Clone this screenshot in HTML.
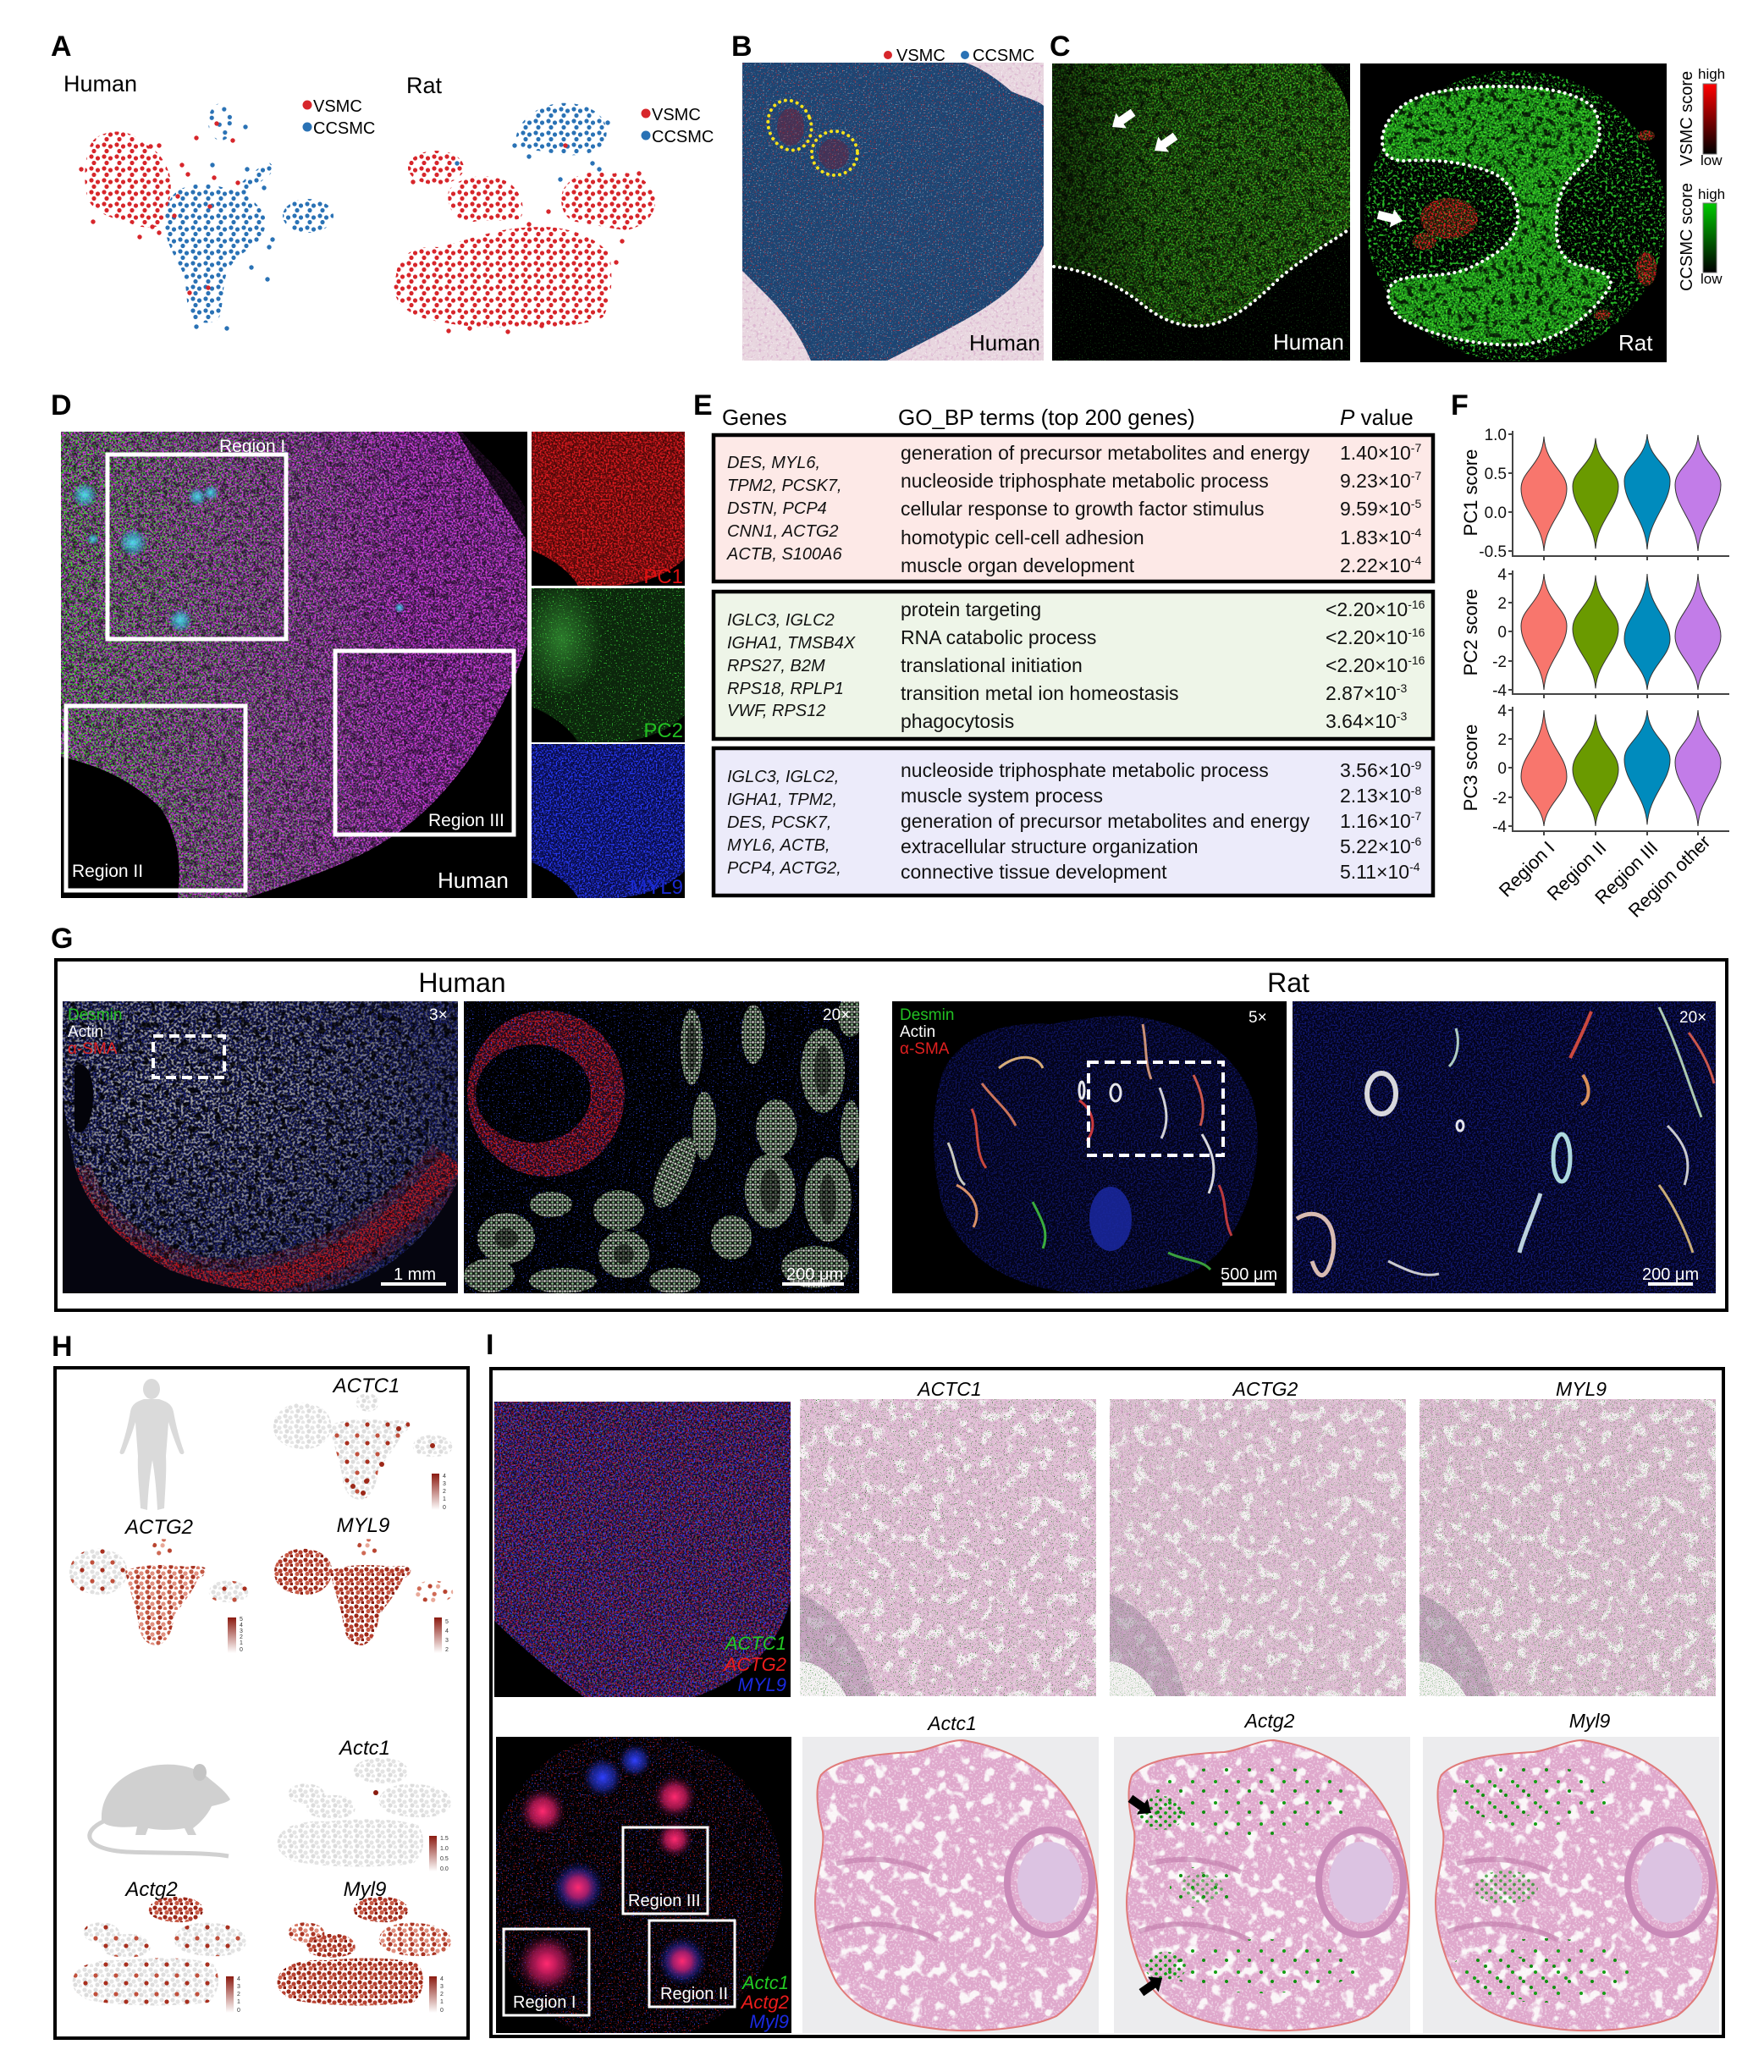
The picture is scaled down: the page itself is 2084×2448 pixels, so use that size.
<!DOCTYPE html>
<html><head><meta charset="utf-8"><title>Figure</title>
<style>html,body{margin:0;padding:0;background:#fff}svg{display:block}text{font-family:"Liberation Sans",Arial,sans-serif}</style>
</head><body>
<svg xmlns="http://www.w3.org/2000/svg" width="2084" height="2448" viewBox="0 0 2084 2448">
<defs>
<filter id="fWs" x="0" y="0" width="1" height="1" color-interpolation-filters="sRGB"><feTurbulence type="fractalNoise" baseFrequency="0.6" seed="2"/><feColorMatrix values="0 0 0 0 1 0 0 0 0 1 0 0 0 0 1 9 0 0 0 -5.5"/></filter>
<filter id="fWm" x="0" y="0" width="1" height="1" color-interpolation-filters="sRGB"><feTurbulence type="fractalNoise" baseFrequency="0.45" seed="3"/><feColorMatrix values="0 0 0 0 1 0 0 0 0 1 0 0 0 0 1 8 0 0 0 -4.3"/></filter>
<filter id="fWb" x="0" y="0" width="1" height="1" color-interpolation-filters="sRGB"><feTurbulence type="fractalNoise" baseFrequency="0.07" numOctaves="2" seed="21"/><feColorMatrix values="0 0 0 0 0.98 0 0 0 0 0.96 0 0 0 0 0.97 8 0 0 0 -4.4"/></filter>
<filter id="fRs" x="0" y="0" width="1" height="1" color-interpolation-filters="sRGB"><feTurbulence type="fractalNoise" baseFrequency="0.6" seed="5"/><feColorMatrix values="0 0 0 0 0.92 0 0 0 0 0.12 0 0 0 0 0.12 0 9 0 0 -5.6"/></filter>
<filter id="fRd" x="0" y="0" width="1" height="1" color-interpolation-filters="sRGB"><feTurbulence type="fractalNoise" baseFrequency="0.5" seed="6"/><feColorMatrix values="0 0 0 0 0.85 0 0 0 0 0.1 0 0 0 0 0.12 7 0 0 0 -3.2"/></filter>
<filter id="fGd" x="0" y="0" width="1" height="1" color-interpolation-filters="sRGB"><feTurbulence type="fractalNoise" baseFrequency="0.5" seed="7"/><feColorMatrix values="0 0 0 0 0.25 0 0 0 0 0.85 0 0 0 0 0.15 7 0 0 0 -3.3"/></filter>
<filter id="fGs" x="0" y="0" width="1" height="1" color-interpolation-filters="sRGB"><feTurbulence type="fractalNoise" baseFrequency="0.6" seed="8"/><feColorMatrix values="0 0 0 0 0.2 0 0 0 0 0.8 0 0 0 0 0.2 9 0 0 0 -5.6"/></filter>
<filter id="fGo" x="0" y="0" width="1" height="1" color-interpolation-filters="sRGB"><feTurbulence type="fractalNoise" baseFrequency="0.3" seed="28"/><feColorMatrix values="0 0 0 0 0.15 0 0 0 0 0.72 0 0 0 0 0.15 8 0 0 0 -4.5"/></filter>
<filter id="fBd" x="0" y="0" width="1" height="1" color-interpolation-filters="sRGB"><feTurbulence type="fractalNoise" baseFrequency="0.55" seed="9"/><feColorMatrix values="0 0 0 0 0.15 0 0 0 0 0.22 0 0 0 0 0.95 7 0 0 0 -3.3"/></filter>
<filter id="fBs" x="0" y="0" width="1" height="1" color-interpolation-filters="sRGB"><feTurbulence type="fractalNoise" baseFrequency="0.6" seed="15"/><feColorMatrix values="0 0 0 0 0.2 0 0 0 0 0.3 0 0 0 0 1 9 0 0 0 -5.6"/></filter>
<filter id="fMd" x="0" y="0" width="1" height="1" color-interpolation-filters="sRGB"><feTurbulence type="fractalNoise" baseFrequency="0.5" seed="10"/><feColorMatrix values="0 0 0 0 0.82 0 0 0 0 0.22 0 0 0 0 0.86 7 0 0 0 -3.1"/></filter>
<filter id="fGy" x="0" y="0" width="1" height="1" color-interpolation-filters="sRGB"><feTurbulence type="fractalNoise" baseFrequency="0.35" seed="11"/><feColorMatrix values="0 0 0 0 0.82 0 0 0 0 0.82 0 0 0 0 0.78 7 0 0 0 -3.3"/></filter>
<filter id="fK" x="0" y="0" width="1" height="1" color-interpolation-filters="sRGB"><feTurbulence type="fractalNoise" baseFrequency="0.45" seed="12"/><feColorMatrix values="0 0 0 0 0 0 0 0 0 0 0 0 0 0 0 8 0 0 0 -4.4"/></filter>
<filter id="fKc" x="0" y="0" width="1" height="1" color-interpolation-filters="sRGB"><feTurbulence type="fractalNoise" baseFrequency="0.13" numOctaves="2" seed="31"/><feColorMatrix values="0 0 0 0 0 0 0 0 0 0 0 0 0 0 0 9 0 0 0 -5.0"/></filter>
<filter id="fDGs" x="0" y="0" width="1" height="1" color-interpolation-filters="sRGB"><feTurbulence type="fractalNoise" baseFrequency="0.9" seed="13"/><feColorMatrix values="0 0 0 0 0.05 0 0 0 0 0.45 0 0 0 0 0.05 10 0 0 0 -6.3"/></filter>
<filter id="fDGd" x="0" y="0" width="1" height="1" color-interpolation-filters="sRGB"><feTurbulence type="fractalNoise" baseFrequency="0.9" seed="14"/><feColorMatrix values="0 0 0 0 0.08 0 0 0 0 0.5 0 0 0 0 0.08 9 0 0 0 -5.2"/></filter>
<filter id="fPk" x="0" y="0" width="1" height="1" color-interpolation-filters="sRGB"><feTurbulence type="fractalNoise" baseFrequency="0.3" seed="16"/><feColorMatrix values="0 0 0 0 0.78 0 0 0 0 0.5 0 0 0 0 0.72 6 0 0 0 -3.3"/></filter>
<filter id="fYo" x="0" y="0" width="1" height="1" color-interpolation-filters="sRGB"><feTurbulence type="fractalNoise" baseFrequency="0.6" seed="17"/><feColorMatrix values="0 0 0 0 0.95 0 0 0 0 0.7 0 0 0 0 0.1 9 0 0 0 -5.8"/></filter>

<pattern id="pr1" width="15" height="14" patternUnits="userSpaceOnUse"><circle cx="3" cy="3" r="2.6" fill="#d7262b"/><circle cx="10.5" cy="5" r="2.6" fill="#d7262b"/><circle cx="6" cy="10.5" r="2.6" fill="#d7262b"/></pattern>
<pattern id="pr2" width="22" height="19" patternUnits="userSpaceOnUse" patternTransform="rotate(17)"><circle cx="5" cy="8" r="2.6" fill="#d7262b"/><circle cx="16" cy="3" r="2.6" fill="#d7262b"/><circle cx="14" cy="15" r="2.6" fill="#d7262b"/></pattern>
<pattern id="pb1" width="15" height="14" patternUnits="userSpaceOnUse"><circle cx="3" cy="3" r="2.6" fill="#2a72b5"/><circle cx="10.5" cy="5" r="2.6" fill="#2a72b5"/><circle cx="6" cy="10.5" r="2.6" fill="#2a72b5"/></pattern>
<pattern id="pb2" width="22" height="19" patternUnits="userSpaceOnUse" patternTransform="rotate(17)"><circle cx="5" cy="8" r="2.6" fill="#2a72b5"/><circle cx="16" cy="3" r="2.6" fill="#2a72b5"/><circle cx="14" cy="15" r="2.6" fill="#2a72b5"/></pattern>

<pattern id="pHg" width="13" height="12" patternUnits="userSpaceOnUse"><circle cx="3" cy="3" r="2.6" fill="#e0e0e0"/><circle cx="9" cy="5" r="2.6" fill="#e4e4e4"/><circle cx="5" cy="9" r="2.6" fill="#dcdcdc"/><circle cx="11" cy="10.5" r="2.2" fill="#e6e6e6"/></pattern>
<pattern id="pHg2" width="19" height="17" patternUnits="userSpaceOnUse" patternTransform="rotate(20)"><circle cx="4" cy="6" r="2.6" fill="#e6e6e6"/><circle cx="13" cy="3" r="2.6" fill="#dedede"/><circle cx="12" cy="13" r="2.6" fill="#e2e2e2"/></pattern>
<pattern id="pHr" width="13" height="12" patternUnits="userSpaceOnUse"><circle cx="3" cy="3" r="2.6" fill="#c45a45"/><circle cx="9" cy="5" r="2.6" fill="#e09080"/><circle cx="5" cy="9" r="2.6" fill="#a83322"/><circle cx="11" cy="10.5" r="2.2" fill="#d87a66"/></pattern>
<pattern id="pHr2" width="19" height="17" patternUnits="userSpaceOnUse" patternTransform="rotate(20)"><circle cx="4" cy="6" r="2.6" fill="#b8432f"/><circle cx="13" cy="3" r="2.6" fill="#e8a898"/><circle cx="12" cy="13" r="2.6" fill="#cf6a55"/></pattern>
<pattern id="pHd" width="12" height="11" patternUnits="userSpaceOnUse"><circle cx="3" cy="3" r="2.6" fill="#9c2818"/><circle cx="9" cy="5" r="2.6" fill="#b84030"/><circle cx="5" cy="8.5" r="2.6" fill="#c85a45"/><circle cx="10.5" cy="9.5" r="2" fill="#8a1c10"/></pattern>
<pattern id="pHs" width="24" height="22" patternUnits="userSpaceOnUse"><circle cx="5" cy="6" r="2.6" fill="#c0503c"/><circle cx="17" cy="15" r="2.6" fill="#a8301f"/></pattern>
<pattern id="pGd" width="11" height="10" patternUnits="userSpaceOnUse"><circle cx="2" cy="2" r="1.9" fill="#14a014"/><circle cx="7" cy="6.5" r="1.9" fill="#0f8f0f"/></pattern>
<pattern id="pGs" width="27" height="25" patternUnits="userSpaceOnUse"><circle cx="5" cy="5" r="2" fill="#14a014"/><circle cx="18" cy="16" r="2" fill="#0f8f0f"/></pattern>
<pattern id="pBun" width="6" height="6" patternUnits="userSpaceOnUse"><rect width="6" height="6" fill="#1c241c"/><circle cx="1.5" cy="1.5" r="1.3" fill="#ececE4"/><circle cx="4.5" cy="4.5" r="1.3" fill="#9ad49a"/><circle cx="4.5" cy="1.5" r="1" fill="#d8d8d8"/></pattern>

<linearGradient id="gV" x1="0" y1="0" x2="0" y2="1"><stop offset="0" stop-color="#ff0000"/><stop offset="1" stop-color="#000"/></linearGradient>
<linearGradient id="gC" x1="0" y1="0" x2="0" y2="1"><stop offset="0" stop-color="#00c800"/><stop offset="1" stop-color="#000"/></linearGradient>
<linearGradient id="gH" x1="0" y1="0" x2="0" y2="1"><stop offset="0" stop-color="#8b1a10"/><stop offset="1" stop-color="#fff"/></linearGradient>
<linearGradient id="gGL" x1="0" y1="0" x2="1" y2="0"><stop offset="0" stop-color="#fff"/><stop offset="0.45" stop-color="#8a8a8a"/><stop offset="0.75" stop-color="#1a1a1a"/></linearGradient>
<linearGradient id="gDarkL" x1="0" y1="0" x2="1" y2="0"><stop offset="0" stop-color="#000" stop-opacity="0.55"/><stop offset="0.35" stop-color="#000" stop-opacity="0.15"/><stop offset="1" stop-color="#000" stop-opacity="0"/></linearGradient>
<radialGradient id="gCy"><stop offset="0" stop-color="#50e8f8" stop-opacity="0.9"/><stop offset="0.6" stop-color="#30c0e0" stop-opacity="0.5"/><stop offset="1" stop-color="#30c0e0" stop-opacity="0"/></radialGradient>
<radialGradient id="rgGH" cx="0.3" cy="0.3" r="0.85"><stop offset="0" stop-color="#e8e8e8"/><stop offset="0.6" stop-color="#999"/><stop offset="1" stop-color="#2a2a2a"/></radialGradient>
<radialGradient id="gBlobR"><stop offset="0" stop-color="#ff2a70"/><stop offset="0.5" stop-color="#c01a5a" stop-opacity="0.8"/><stop offset="1" stop-color="#400830" stop-opacity="0"/></radialGradient>
<radialGradient id="gBlobB"><stop offset="0" stop-color="#3040ff"/><stop offset="0.6" stop-color="#2030c0" stop-opacity="0.6"/><stop offset="1" stop-color="#101060" stop-opacity="0"/></radialGradient>
<radialGradient id="gPC2"><stop offset="0" stop-color="#40b040"/><stop offset="1" stop-color="#40b040" stop-opacity="0"/></radialGradient>

<mask id="mGL"><rect x="72" y="510" width="551" height="551" fill="url(#gGL)"/></mask>
<mask id="mGH"><rect x="74" y="1183" width="467" height="345" fill="url(#rgGH)"/></mask>
<mask id="mBand" maskUnits="userSpaceOnUse" x="0" y="1100" width="700" height="500"><path d="M78,1385 C110,1470 190,1515 270,1518 C370,1512 460,1465 535,1370" stroke="#fff" stroke-width="30" fill="none" opacity="0.85"/><path d="M78,1385 C110,1470 190,1515 270,1518 C370,1512 460,1465 535,1370" stroke="#fff" stroke-width="60" fill="none" opacity="0.35"/></mask>

<clipPath id="cpB"><path d="M877,74 L1140,74 C1160,80 1180,95 1195,108 C1210,115 1225,118 1233,125 L1233,290 C1215,330 1180,355 1140,378 C1100,400 1070,415 1048,426 L958,426 C945,395 925,368 905,348 C895,338 885,328 877,320 Z"/></clipPath>
<clipPath id="cpCH"><path d="M1243,75 L1560,75 C1580,95 1595,115 1595,150 L1595,268 C1575,285 1545,300 1510,330 C1480,360 1450,383 1420,385 C1395,386 1375,380 1350,360 C1320,335 1280,318 1245,315 Z"/></clipPath>
<clipPath id="cpCR"><path d="M1633,163 C1632,180 1640,190 1660,190 C1690,188 1730,190 1765,205 C1790,218 1796,245 1792,267 C1785,292 1760,305 1733,318 C1700,330 1660,322 1645,335 C1632,350 1645,375 1667,382 C1700,400 1760,410 1800,407 C1840,402 1880,375 1903,337 C1904,325 1890,318 1860,312 C1835,300 1838,270 1840,247 C1842,220 1860,205 1880,185 C1893,170 1893,140 1880,125 C1860,108 1820,102 1773,102 C1740,102 1700,106 1675,115 C1650,125 1635,145 1633,163 Z"/></clipPath>
<clipPath id="cpCRo"><ellipse cx="1790" cy="255" rx="178" ry="172"/></clipPath>
<clipPath id="cpRed"><ellipse cx="1712" cy="258" rx="34" ry="24"/><ellipse cx="1683" cy="285" rx="14" ry="10"/><ellipse cx="1945" cy="318" rx="12" ry="20"/><ellipse cx="1945" cy="160" rx="10" ry="6"/><ellipse cx="1893" cy="372" rx="10" ry="6"/></clipPath>
<clipPath id="cpD"><path d="M72,510 L545,510 C570,540 600,560 620,600 L623,760 C600,830 560,900 510,950 C470,990 430,1010 380,1030 C340,1045 310,1055 290,1061 L210,1061 C215,1020 210,985 190,955 C160,925 120,905 76,895 L72,895 Z"/></clipPath>
<clipPath id="cpSide"><path d="M0,0 L181,0 L181,150 C160,170 130,180 100,182 L55,182 C45,165 25,150 0,140 Z"/></clipPath>
<clipPath id="cpGHL"><path d="M74,1183 L541,1183 L541,1395 C515,1450 470,1500 400,1522 C330,1534 260,1524 200,1500 C140,1468 100,1425 88,1375 L74,1300 Z"/></clipPath>
<clipPath id="cpGHR"><rect x="548" y="1183" width="467" height="345"/></clipPath>
<clipPath id="cpRing"><path clip-rule="evenodd" d="M552,1292 a93,98 0 1,0 186,0 a93,98 0 1,0 -186,0 Z M562,1292 a68,58 0 1,0 136,0 a68,58 0 1,0 -136,0 Z"/></clipPath>
<clipPath id="cpGRL"><path d="M1110,1280 C1120,1230 1180,1205 1240,1210 C1270,1205 1300,1200 1330,1200 C1400,1205 1460,1240 1480,1300 C1495,1360 1480,1430 1440,1480 C1400,1520 1330,1528 1280,1528 C1200,1525 1140,1490 1115,1430 C1100,1380 1100,1320 1110,1280 Z"/></clipPath>
<clipPath id="cpItl"><path d="M584,1656 L934,1656 L934,1890 C920,1945 880,1985 820,2005 L690,2005 C650,1975 615,1945 584,1915 Z"/></clipPath>
<clipPath id="cpIbl"><ellipse cx="750" cy="2230" rx="175" ry="185"/></clipPath>
<clipPath id="cpRT"><path d="M189,4 C230,10 280,30 310,70 C340,110 349,160 349,200 C349,260 340,300 300,330 C260,348 190,350 150,344 C90,336 60,320 40,290 C20,250 12,210 16,180 C20,150 26,130 24,112 C18,90 14,60 22,45 C40,25 90,20 130,18 C150,16 170,4 189,4 Z"/></clipPath>

<path id="hL" d="M2,40 C2,22 20,10 40,12 C60,14 72,25 70,42 C68,58 52,68 34,66 C15,64 2,55 2,40Z"/>
<path id="hTop" d="M100,10 C100,2 110,-1 118,1 C126,3 128,12 124,18 C118,24 104,22 100,15Z"/>
<path id="hTr" d="M68,38 C90,28 130,30 158,36 C152,58 138,74 126,90 C124,106 120,122 106,126 C90,126 84,112 83,96 C80,78 72,60 68,38Z"/>
<path id="hBr" d="M128,40 C135,32 150,30 162,34 C166,40 160,46 150,48 C140,50 130,48 128,40Z"/>
<path id="hR" d="M167,62 C168,52 182,48 196,50 C210,52 216,60 212,68 C206,76 190,76 178,74 C170,72 166,68 167,62Z"/>
<path id="rTop" d="M92,15 C95,4 112,0 128,1 C145,2 157,8 156,18 C154,28 140,32 124,31 C106,30 90,25 92,15Z"/>
<path id="rL" d="M15,42 C16,33 30,30 42,32 C55,34 60,42 56,50 C50,56 36,56 26,54 C18,52 14,48 15,42Z"/>
<path id="rM" d="M36,58 C38,48 55,44 72,45 C88,46 96,55 93,64 C88,72 70,74 55,72 C42,70 35,66 36,58Z"/>
<path id="rR" d="M122,50 C124,36 145,30 168,32 C192,34 208,42 207,55 C205,68 186,72 165,71 C140,70 120,64 122,50Z"/>
<path id="rB" d="M2,98 C5,82 30,74 60,76 C100,72 140,72 168,80 C178,96 175,115 162,126 C120,131 60,131 20,123 C5,116 0,108 2,98Z"/>
<polygon id="arw" points="0,0 13,-11 13,-5 30,-5 30,5 13,5 13,11"/>

<g id="heH">
<rect width="350" height="351" fill="#e4c2d9"/>
<rect width="350" height="351" filter="url(#fWb)" opacity="0.9"/>
<rect width="350" height="351" filter="url(#fPk)" opacity="0.45"/>
<path d="M0,230 C30,240 60,270 80,320 L90,351 L0,351 Z" fill="#a888a8" opacity="0.5"/>
<path d="M0,310 C20,310 40,325 55,351 L0,351 Z" fill="#f6f2f4"/>
</g>
<g id="heR">
<rect width="350" height="350" fill="#ececee"/>
<g clip-path="url(#cpRT)">
<rect width="350" height="350" fill="#dfa8cc"/>
<rect width="350" height="350" filter="url(#fWb)"/>
<rect width="350" height="350" filter="url(#fWm)" opacity="0.45"/>
</g>
<path d="M189,4 C230,10 280,30 310,70 C340,110 349,160 349,200 C349,260 340,300 300,330 C260,348 190,350 150,344 C90,336 60,320 40,290 C20,250 12,210 16,180 C20,150 26,130 24,112 C18,90 14,60 22,45 C40,25 90,20 130,18 C150,16 170,4 189,4 Z" fill="none" stroke="#e07a7a" stroke-width="2"/>
<ellipse cx="292" cy="172" rx="50" ry="62" fill="none" stroke="#c98ab8" stroke-width="8"/>
<ellipse cx="292" cy="172" rx="38" ry="48" fill="#dcc3e2"/>
<path d="M40,150 C80,140 120,145 150,160 M30,230 C70,215 120,220 160,240" stroke="#c07aa8" stroke-width="6" fill="none" opacity="0.6"/>
</g>
</defs>

<rect width="2084" height="2448" fill="#fff"/>

<!-- panel letters -->
<g font-weight="bold" font-size="34" fill="#000">
<text x="60" y="66">A</text><text x="864" y="66">B</text><text x="1240" y="66">C</text>
<text x="60" y="490">D</text><text x="819" y="490">E</text><text x="1714" y="490">F</text>
<text x="60" y="1120">G</text><text x="61" y="1602">H</text><text x="574" y="1600">I</text>
</g>

<!-- ===== A ===== -->
<text x="75" y="108" font-size="27">Human</text>
<circle cx="363" cy="124" r="5.5" fill="#d7262b"/><text x="370" y="132" font-size="20">VSMC</text>
<circle cx="363" cy="150" r="5.5" fill="#2a72b5"/><text x="370" y="158" font-size="20">CCSMC</text>
<text x="480" y="110" font-size="27">Rat</text>
<circle cx="763" cy="134" r="5.5" fill="#d7262b"/><text x="770" y="142" font-size="20">VSMC</text>
<circle cx="763" cy="160" r="5.5" fill="#2a72b5"/><text x="770" y="168" font-size="20">CCSMC</text>
<g>
<path d="M118,160 C140,150 160,158 170,170 C185,175 195,190 200,205 C205,225 198,245 195,262 C185,272 165,270 150,262 C130,258 110,250 104,235 C98,215 100,195 104,180 C106,170 110,164 118,160 Z" fill="url(#pr1)"/>
<path d="M205,230 C220,215 245,215 265,222 C285,225 300,235 310,250 C318,262 312,280 300,290 C285,300 275,308 268,322 C262,340 265,360 258,378 C248,384 230,382 225,372 C218,355 222,335 215,320 C205,300 195,285 195,265 C195,250 198,238 205,230 Z" fill="url(#pb1)"/>
<ellipse cx="261" cy="144" rx="15" ry="22" fill="url(#pb2)"/>
<ellipse cx="364" cy="255" rx="30" ry="20" fill="url(#pb1)"/>
<path d="M275,228 C285,215 300,200 318,192 C325,196 322,205 315,210 C302,218 292,228 283,236 Z" fill="url(#pb1)"/>
<g fill="#d7262b"><circle cx="215" cy="195" r="2.7"/><circle cx="222" cy="206" r="2.7"/><circle cx="210" cy="232" r="2.7"/><circle cx="188" cy="275" r="2.7"/><circle cx="180" cy="268" r="2.7"/><circle cx="281" cy="216" r="2.7"/><circle cx="253" cy="210" r="2.7"/><circle cx="232" cy="163" r="2.7"/><circle cx="275" cy="166" r="2.7"/><circle cx="246" cy="340" r="2.7"/><circle cx="224" cy="346" r="2.7"/><circle cx="256" cy="146" r="2.7"/><circle cx="178" cy="173" r="2.7"/><circle cx="188" cy="172" r="2.7"/><circle cx="248" cy="244" r="2.7"/><circle cx="96" cy="200" r="2.7"/><circle cx="110" cy="262" r="2.7"/><circle cx="165" cy="280" r="2.7"/><circle cx="206" cy="255" r="2.7"/></g>
<g fill="#2a72b5"><circle cx="318" cy="292" r="2.7"/><circle cx="316" cy="330" r="2.7"/><circle cx="292" cy="200" r="2.7"/><circle cx="251" cy="195" r="2.7"/><circle cx="290" cy="150" r="2.7"/><circle cx="322" cy="283" r="2.7"/><circle cx="297" cy="316" r="2.7"/><circle cx="312" cy="222" r="2.7"/><circle cx="268" cy="388" r="2.7"/><circle cx="232" cy="386" r="2.7"/></g>
</g>
<g>
<path d="M610,160 C615,140 635,125 660,122 C690,120 712,132 716,150 C720,170 705,180 690,182 C670,186 650,180 635,178 C620,178 608,172 610,160 Z" fill="url(#pb1)"/>
<ellipse cx="515" cy="198" rx="33" ry="20" fill="url(#pr1)"/>
<path d="M530,225 C545,205 580,205 600,215 C615,225 622,245 615,258 C600,263 575,258 560,262 C540,262 526,248 530,225 Z" fill="url(#pr1)"/>
<path d="M665,225 C675,205 700,200 725,205 C750,200 770,215 774,235 C775,255 760,268 740,272 C720,270 700,265 680,262 C665,258 660,240 665,225 Z" fill="url(#pr1)"/>
<path d="M468,325 C470,300 490,290 520,292 C545,285 560,280 580,275 C600,270 620,268 645,268 C680,270 705,282 720,300 C725,330 722,360 712,375 C690,385 650,388 620,385 C580,388 545,386 520,380 C500,378 480,370 470,355 C464,345 465,335 468,325 Z" fill="url(#pr1)"/>
<g fill="#2a72b5"><circle cx="718" cy="145" r="2.7"/><circle cx="700" cy="193" r="2.7"/><circle cx="708" cy="200" r="2.7"/><circle cx="662" cy="212" r="2.7"/><circle cx="540" cy="193" r="2.7"/><circle cx="608" cy="172" r="2.7"/><circle cx="625" cy="185" r="2.7"/></g>
<g fill="#d7262b"><circle cx="668" cy="172" r="2.7"/><circle cx="625" cy="265" r="2.7"/><circle cx="648" cy="250" r="2.7"/><circle cx="728" cy="310" r="2.7"/><circle cx="555" cy="388" r="2.7"/><circle cx="600" cy="392" r="2.7"/><circle cx="640" cy="385" r="2.7"/><circle cx="755" cy="205" r="2.7"/><circle cx="530" cy="391" r="2.7"/><circle cx="488" cy="215" r="2.7"/><circle cx="735" cy="285" r="2.7"/></g>
</g>

<!-- ===== B ===== -->
<circle cx="1049" cy="65" r="5" fill="#d7262b"/><text x="1059" y="72" font-size="20">VSMC</text>
<circle cx="1140" cy="65" r="5" fill="#2a72b5"/><text x="1149" y="72" font-size="20">CCSMC</text>
<rect x="877" y="74" width="356" height="352" fill="#e8d6df"/>
<rect x="877" y="74" width="356" height="352" filter="url(#fPk)" opacity="0.35"/>
<rect x="877" y="74" width="356" height="352" filter="url(#fWs)" opacity="0.6"/>
<g clip-path="url(#cpB)">
<rect x="877" y="74" width="356" height="352" fill="#1c4573"/>
<rect x="877" y="74" width="356" height="352" filter="url(#fWs)" opacity="0.4"/>
<rect x="877" y="74" width="356" height="352" filter="url(#fRs)" opacity="0.65"/>
<ellipse cx="934" cy="150" rx="16" ry="22" fill="#7a1a30" opacity="0.45"/>
<ellipse cx="985" cy="182" rx="18" ry="18" fill="#7a1a30" opacity="0.4"/>
</g>
<g fill="none" stroke="#f5e11a" stroke-width="4" stroke-dasharray="0.1 7" stroke-linecap="round">
<ellipse cx="933" cy="148" rx="25" ry="30" transform="rotate(-20 933 148)"/>
<ellipse cx="986" cy="181" rx="27" ry="26"/>
</g>
<text x="1145" y="414" font-size="26">Human</text>

<!-- ===== C human ===== -->
<rect x="1243" y="75" width="352" height="351" fill="#000"/>
<rect x="1243" y="75" width="352" height="351" filter="url(#fGs)" opacity="0.3"/>
<g clip-path="url(#cpCH)">
<rect x="1243" y="75" width="352" height="351" fill="#14360b"/>
<rect x="1243" y="75" width="352" height="351" filter="url(#fGd)" opacity="0.75"/>
<rect x="1243" y="75" width="352" height="351" filter="url(#fK)" opacity="0.6"/>
<rect x="1243" y="75" width="352" height="351" filter="url(#fKc)" opacity="0.55"/>
<rect x="1243" y="75" width="352" height="351" filter="url(#fYo)" opacity="0.6"/>
<rect x="1243" y="75" width="352" height="351" fill="url(#gDarkL)"/>
</g>
<path d="M1245,315 C1280,318 1320,335 1350,360 C1375,380 1395,386 1420,385 C1450,383 1480,360 1510,330 C1545,300 1575,285 1595,270" fill="none" stroke="#fff" stroke-width="4" stroke-dasharray="0.1 7" stroke-linecap="round"/>
<use href="#arw" fill="#fff" transform="translate(1314,150) rotate(-35)"/>
<use href="#arw" fill="#fff" transform="translate(1364,178) rotate(-35)"/>
<text x="1504" y="413" font-size="26" fill="#fff">Human</text>

<!-- ===== C rat ===== -->
<rect x="1607" y="75" width="362" height="353" fill="#000"/>
<g clip-path="url(#cpCRo)"><rect x="1607" y="75" width="362" height="353" filter="url(#fGo)"/><rect x="1607" y="75" width="362" height="353" filter="url(#fGs)"/></g>
<g clip-path="url(#cpCR)">
<rect x="1607" y="75" width="362" height="353" fill="#17861a"/>
<rect x="1607" y="75" width="362" height="353" filter="url(#fGd)"/>
<rect x="1607" y="75" width="362" height="353" filter="url(#fK)" opacity="0.7"/>
<rect x="1607" y="75" width="362" height="353" filter="url(#fKc)" opacity="0.75"/>
</g>
<g clip-path="url(#cpRed)"><rect x="1607" y="75" width="362" height="353" fill="#1a2008"/><rect x="1607" y="75" width="362" height="353" filter="url(#fRd)"/><rect x="1607" y="75" width="362" height="353" filter="url(#fGs)"/><rect x="1607" y="75" width="362" height="353" filter="url(#fK)" opacity="0.5"/></g>
<path d="M1633,163 C1632,180 1640,190 1660,190 C1690,188 1730,190 1765,205 C1790,218 1796,245 1792,267 C1785,292 1760,305 1733,318 C1700,330 1660,322 1645,335 C1632,350 1645,375 1667,382 C1700,400 1760,410 1800,407 C1840,402 1880,375 1903,337 C1904,325 1890,318 1860,312 C1835,300 1838,270 1840,247 C1842,220 1860,205 1880,185 C1893,170 1893,140 1880,125 C1860,108 1820,102 1773,102 C1740,102 1700,106 1675,115 C1650,125 1635,145 1633,163 Z" fill="none" stroke="#fff" stroke-width="4" stroke-dasharray="0.1 7" stroke-linecap="round"/>
<use href="#arw" fill="#fff" transform="translate(1657,261) rotate(194)"/>
<text x="1912" y="414" font-size="26" fill="#fff">Rat</text>

<!-- color bars -->
<rect x="2012" y="99" width="16" height="83" fill="url(#gV)" stroke="#777" stroke-width="1"/>
<rect x="2012" y="240" width="16" height="82" fill="url(#gC)" stroke="#777" stroke-width="1"/>
<g font-size="17"><text x="2006" y="93">high</text><text x="2009" y="195">low</text><text x="2006" y="235">high</text><text x="2009" y="335">low</text></g>
<text transform="translate(1999,140) rotate(-90)" text-anchor="middle" font-size="20">VSMC score</text>
<text transform="translate(1999,280) rotate(-90)" text-anchor="middle" font-size="20">CCSMC score</text>

<!-- ===== D ===== -->
<rect x="72" y="510" width="551" height="551" fill="#000"/>
<g clip-path="url(#cpD)">
<rect x="72" y="510" width="551" height="551" fill="#441450"/>
<rect x="72" y="510" width="551" height="551" filter="url(#fMd)"/>
<rect x="72" y="510" width="551" height="551" filter="url(#fGd)" mask="url(#mGL)"/>
<rect x="72" y="510" width="551" height="551" filter="url(#fBs)" opacity="0.5"/>
<rect x="72" y="510" width="551" height="551" filter="url(#fK)" opacity="0.4"/>
<rect x="72" y="510" width="551" height="551" filter="url(#fKc)" opacity="0.35"/>
<path d="M540,510 L623,510 L623,640 C600,600 570,560 540,510 Z" fill="#000" opacity="0.8"/>
</g>
<g fill="url(#gCy)"><circle cx="100" cy="585" r="15"/><circle cx="157" cy="641" r="17"/><circle cx="233" cy="587" r="11"/><circle cx="249" cy="582" r="9"/><circle cx="213" cy="733" r="14"/><circle cx="110" cy="637" r="7"/><circle cx="472" cy="718" r="6"/></g>
<g fill="none" stroke="#fff" stroke-width="5">
<rect x="127" y="537" width="211" height="218"/>
<rect x="78" y="834" width="212" height="218"/>
<rect x="396" y="769" width="211" height="217"/>
</g>
<g fill="#fff" font-size="21"><text x="259" y="534">Region I</text><text x="85" y="1036">Region II</text><text x="506" y="976">Region III</text></g>
<text x="517" y="1049" font-size="26" fill="#fff">Human</text>

<g transform="translate(628,510)">
<rect width="181" height="182" fill="#000"/>
<g clip-path="url(#cpSide)"><rect width="181" height="182" fill="#5c0a0a"/><rect width="181" height="182" filter="url(#fRd)"/><rect width="181" height="182" filter="url(#fK)" opacity="0.4"/></g>
</g>
<g transform="translate(628,695)">
<rect width="181" height="182" fill="#000"/>
<g clip-path="url(#cpSide)"><rect width="181" height="182" fill="#0c260c"/><rect width="181" height="182" filter="url(#fGs)"/><ellipse cx="35" cy="60" rx="50" ry="70" fill="url(#gPC2)" opacity="0.6"/></g>
</g>
<g transform="translate(628,879)">
<rect width="181" height="182" fill="#000"/>
<g clip-path="url(#cpSide)"><rect width="181" height="182" fill="#0a0e50"/><rect width="181" height="182" filter="url(#fBd)"/><rect width="181" height="182" filter="url(#fK)" opacity="0.4"/></g>
</g>
<g font-size="24" text-anchor="end"><text x="807" y="689" fill="#e01010">PC1</text><text x="807" y="871" fill="#22c022">PC2</text><text x="807" y="1056" fill="#1a2ad0">MYL9</text></g>

<!-- ===== E ===== -->
<g font-size="26"><text x="853" y="502">Genes</text><text x="1061" y="502">GO_BP terms (top 200 genes)</text><text x="1583" y="502"><tspan font-style="italic">P</tspan> value</text></g>
<rect x="843" y="514" width="850" height="173" fill="#fde9e7" stroke="#000" stroke-width="4.5"/>
<rect x="843" y="699" width="850" height="174" fill="#eef5e8" stroke="#000" stroke-width="4.5"/>
<rect x="843" y="884" width="850" height="174" fill="#ecebfa" stroke="#000" stroke-width="4.5"/>
<g font-size="20" font-style="italic" fill="#111">
<text x="859" y="553">DES, MYL6,</text><text x="859" y="580">TPM2, PCSK7,</text><text x="859" y="607">DSTN, PCP4</text><text x="859" y="634">CNN1, ACTG2</text><text x="859" y="661">ACTB, S100A6</text>
<text x="859" y="739">IGLC3, IGLC2</text><text x="859" y="766">IGHA1, TMSB4X</text><text x="859" y="793">RPS27, B2M</text><text x="859" y="820">RPS18, RPLP1</text><text x="859" y="846">VWF, RPS12</text>
<text x="859" y="924">IGLC3, IGLC2,</text><text x="859" y="951">IGHA1, TPM2,</text><text x="859" y="978">DES, PCSK7,</text><text x="859" y="1005">MYL6, ACTB,</text><text x="859" y="1032">PCP4, ACTG2,</text>
</g>
<g font-size="23" fill="#111">
<text x="1064" y="543">generation of precursor metabolites and energy</text>
<text x="1064" y="576">nucleoside triphosphate metabolic process</text>
<text x="1064" y="609">cellular response to growth factor stimulus</text>
<text x="1064" y="643">homotypic cell-cell adhesion</text>
<text x="1064" y="676">muscle organ development</text>
<text x="1064" y="728">protein targeting</text>
<text x="1064" y="761">RNA catabolic process</text>
<text x="1064" y="794">translational initiation</text>
<text x="1064" y="827">transition metal ion homeostasis</text>
<text x="1064" y="860">phagocytosis</text>
<text x="1064" y="918">nucleoside triphosphate metabolic process</text>
<text x="1064" y="948">muscle system process</text>
<text x="1064" y="978">generation of precursor metabolites and energy</text>
<text x="1064" y="1008">extracellular structure organization</text>
<text x="1064" y="1038">connective tissue development</text>
<text x="1583" y="543">1.40×10<tspan dy="-9" font-size="14">-7</tspan></text>
<text x="1583" y="576">9.23×10<tspan dy="-9" font-size="14">-7</tspan></text>
<text x="1583" y="609">9.59×10<tspan dy="-9" font-size="14">-5</tspan></text>
<text x="1583" y="643">1.83×10<tspan dy="-9" font-size="14">-4</tspan></text>
<text x="1583" y="676">2.22×10<tspan dy="-9" font-size="14">-4</tspan></text>
<text x="1566" y="728">&lt;2.20×10<tspan dy="-9" font-size="14">-16</tspan></text>
<text x="1566" y="761">&lt;2.20×10<tspan dy="-9" font-size="14">-16</tspan></text>
<text x="1566" y="794">&lt;2.20×10<tspan dy="-9" font-size="14">-16</tspan></text>
<text x="1566" y="827">2.87×10<tspan dy="-9" font-size="14">-3</tspan></text>
<text x="1566" y="860">3.64×10<tspan dy="-9" font-size="14">-3</tspan></text>
<text x="1583" y="918">3.56×10<tspan dy="-9" font-size="14">-9</tspan></text>
<text x="1583" y="948">2.13×10<tspan dy="-9" font-size="14">-8</tspan></text>
<text x="1583" y="978">1.16×10<tspan dy="-9" font-size="14">-7</tspan></text>
<text x="1583" y="1008">5.22×10<tspan dy="-9" font-size="14">-6</tspan></text>
<text x="1583" y="1038">5.11×10<tspan dy="-9" font-size="14">-4</tspan></text>
</g>

<!-- ===== F ===== -->
<g stroke="#444" stroke-width="2" fill="none">
<path d="M1787,509 L1787,657 L2043,657"/>
<path d="M1787,674 L1787,820 L2043,820"/>
<path d="M1787,835 L1787,982 L2043,982"/>
<path d="M1782,513 H1787 M1782,559 H1787 M1782,605 H1787 M1782,651 H1787"/>
<path d="M1782,678 H1787 M1782,712 H1787 M1782,746 H1787 M1782,781 H1787 M1782,815 H1787"/>
<path d="M1782,839 H1787 M1782,873 H1787 M1782,907 H1787 M1782,942 H1787 M1782,976 H1787"/>
<path d="M1824,657 V662 M1885,657 V662 M1946,657 V662 M2006,657 V662 M1824,820 V825 M1885,820 V825 M1946,820 V825 M2006,820 V825 M1824,982 V987 M1885,982 V987 M1946,982 V987 M2006,982 V987"/>
</g>
<g font-size="19" text-anchor="end" fill="#111">
<text x="1780" y="520">1.0</text><text x="1780" y="566">0.5</text><text x="1780" y="612">0.0</text><text x="1780" y="658">-0.5</text>
<text x="1780" y="685">4</text><text x="1780" y="719">2</text><text x="1780" y="753">0</text><text x="1780" y="788">-2</text><text x="1780" y="822">-4</text>
<text x="1780" y="846">4</text><text x="1780" y="880">2</text><text x="1780" y="914">0</text><text x="1780" y="949">-2</text><text x="1780" y="983">-4</text>
</g>
<g font-size="22" text-anchor="middle">
<text transform="translate(1745,582) rotate(-90)">PC1 score</text>
<text transform="translate(1745,747) rotate(-90)">PC2 score</text>
<text transform="translate(1745,907) rotate(-90)">PC3 score</text>
</g>
<g stroke="#333" stroke-width="1">
<path fill="#f8766d" d="M1824,515.8 C1826,549.7 1851,555.8 1851,577.4 C1851,603.2 1826,617.9 1824,651 C1822,617.9 1797,603.2 1797,577.4 C1797,555.8 1822,549.7 1824,515.8Z"/>
<path fill="#6a9a00" d="M1885,517.6 C1887,549 1912,554.7 1912,574.6 C1912,600.4 1887,615.1 1885,648.2 C1883,615.1 1858,600.4 1858,574.6 C1858,554.7 1883,549 1885,517.6Z"/>
<path fill="#008bbd" d="M1946,513 C1948,543.4 1973,548.9 1973,568.2 C1973,596.6 1948,612.8 1946,649.2 C1944,612.8 1919,596.6 1919,568.2 C1919,548.9 1944,543.4 1946,513Z"/>
<path fill="#c27ce8" d="M2006,513.9 C2008,546.3 2033,552.2 2033,572.8 C2033,600.2 2008,615.8 2006,651 C2004,615.8 1979,600.2 1979,572.8 C1979,552.2 2004,546.3 2006,513.9Z"/>
<path fill="#f8766d" d="M1824,678 C1826,711.9 1851,718.1 1851,739.7 C1851,766.1 1826,781.1 1824,815 C1822,781.1 1797,766.1 1797,739.7 C1797,718.1 1822,711.9 1824,678Z"/>
<path fill="#6a9a00" d="M1885,679.7 C1887,714.6 1912,720.9 1912,743.1 C1912,767.7 1887,781.7 1885,813.3 C1883,781.7 1858,767.7 1858,743.1 C1858,720.9 1883,714.6 1885,679.7Z"/>
<path fill="#008bbd" d="M1946,678 C1948,720.4 1973,728.1 1973,755.1 C1973,776.1 1948,788 1946,815 C1944,788 1919,776.1 1919,755.1 C1919,728.1 1944,720.4 1946,678Z"/>
<path fill="#c27ce8" d="M2006,678 C2008,718.5 2033,725.8 2033,751.6 C2033,773.8 2008,786.5 2006,815 C2004,786.5 1979,773.8 1979,751.6 C1979,725.8 2004,718.5 2006,678Z"/>
<path fill="#f8766d" d="M1824,839 C1826,882.3 1851,890.2 1851,917.8 C1851,938.2 1826,949.8 1824,976 C1822,949.8 1797,938.2 1797,917.8 C1797,890.2 1822,882.3 1824,839Z"/>
<path fill="#6a9a00" d="M1885,844.1 C1887,879.9 1912,886.4 1912,909.2 C1912,932.6 1887,945.9 1885,976 C1883,945.9 1858,932.6 1858,909.2 C1858,886.4 1883,879.9 1885,844.1Z"/>
<path fill="#008bbd" d="M1946,839 C1948,871 1973,876.8 1973,897.2 C1973,924.2 1948,939.6 1946,974.3 C1944,939.6 1919,924.2 1919,897.2 C1919,876.8 1944,871 1946,839Z"/>
<path fill="#c27ce8" d="M2006,839 C2008,872.9 2033,879.1 2033,900.7 C2033,927.1 2008,942.1 2006,976 C2004,942.1 1979,927.1 1979,900.7 C1979,879.1 2004,872.9 2006,839Z"/>
</g>
<g font-size="22" text-anchor="end">
<text transform="translate(1838,1003) rotate(-45)">Region I</text>
<text transform="translate(1899,1003) rotate(-45)">Region II</text>
<text transform="translate(1960,1003) rotate(-45)">Region III</text>
<text transform="translate(2022,996) rotate(-45)">Region other</text>
</g>

<!-- ===== G ===== -->
<rect x="66" y="1134" width="1974" height="414" fill="none" stroke="#000" stroke-width="4"/>
<text x="546" y="1172" font-size="32" text-anchor="middle">Human</text>
<text x="1522" y="1172" font-size="32" text-anchor="middle">Rat</text>
<!-- human left -->
<rect x="74" y="1183" width="467" height="345" fill="#05050f"/>
<g clip-path="url(#cpGHL)">
<rect x="74" y="1183" width="467" height="345" fill="#0e0f28"/>
<rect x="74" y="1183" width="467" height="345" filter="url(#fBd)" opacity="0.42"/>
<rect x="74" y="1183" width="467" height="345" filter="url(#fGy)" mask="url(#mGH)" opacity="0.85"/>
<rect x="74" y="1183" width="467" height="345" filter="url(#fK)" opacity="0.45"/>
<rect x="74" y="1183" width="467" height="345" filter="url(#fKc)" opacity="0.8"/>
<g mask="url(#mBand)"><rect x="74" y="1183" width="467" height="345" fill="#2a0818" opacity="0.6"/><rect x="74" y="1183" width="467" height="345" filter="url(#fRd)" opacity="0.9"/></g>
</g>
<path d="M88,1260 C100,1250 112,1270 110,1300 C108,1330 96,1345 88,1335 Z" fill="#03030a"/>
<rect x="181" y="1224" width="84" height="49" fill="none" stroke="#fff" stroke-width="4" stroke-dasharray="12 7"/>
<g font-size="19"><text x="80" y="1205" fill="#22c022">Desmin</text><text x="80" y="1225" fill="#fff">Actin</text><text x="80" y="1245" fill="#e02020">α-SMA</text></g>
<text x="507" y="1205" font-size="19" fill="#fff">3×</text>
<text x="465" y="1512" font-size="20" fill="#fff">1 mm</text><rect x="450" y="1515" width="77" height="4" fill="#fff"/>
<!-- human right -->
<rect x="548" y="1183" width="467" height="345" fill="#000"/>
<g clip-path="url(#cpGHR)">
<rect x="548" y="1183" width="467" height="345" filter="url(#fBs)" opacity="0.8"/>
<g clip-path="url(#cpRing)"><rect x="548" y="1183" width="200" height="220" fill="#1a0818"/><rect x="548" y="1183" width="200" height="220" filter="url(#fRd)" opacity="0.8"/><rect x="548" y="1183" width="200" height="220" filter="url(#fBs)"/></g>
<g fill="url(#pBun)" opacity="0.9">
<ellipse cx="817" cy="1237" rx="13" ry="45"/><ellipse cx="890" cy="1222" rx="14" ry="35"/><ellipse cx="972" cy="1265" rx="26" ry="50"/><ellipse cx="1005" cy="1200" rx="15" ry="25"/>
<ellipse cx="917" cy="1333" rx="24" ry="34"/><ellipse cx="832" cy="1330" rx="14" ry="40"/><ellipse cx="797" cy="1385" rx="18" ry="45" transform="rotate(25 797 1385)"/>
<ellipse cx="731" cy="1430" rx="30" ry="24"/><ellipse cx="910" cy="1407" rx="30" ry="44"/><ellipse cx="978" cy="1417" rx="28" ry="50"/>
<ellipse cx="864" cy="1462" rx="24" ry="26"/><ellipse cx="737" cy="1482" rx="30" ry="28"/><ellipse cx="598" cy="1463" rx="34" ry="30"/>
<ellipse cx="651" cy="1423" rx="25" ry="15"/><ellipse cx="578" cy="1507" rx="30" ry="20"/><ellipse cx="665" cy="1513" rx="40" ry="15"/>
<ellipse cx="963" cy="1497" rx="40" ry="25"/><ellipse cx="797" cy="1513" rx="30" ry="15"/><ellipse cx="1005" cy="1340" rx="12" ry="40"/>
</g>
<g fill="#000" opacity="0.45"><ellipse cx="817" cy="1237" rx="6" ry="30"/><ellipse cx="972" cy="1265" rx="10" ry="30"/><ellipse cx="910" cy="1407" rx="12" ry="26"/><ellipse cx="978" cy="1417" rx="10" ry="30"/><ellipse cx="598" cy="1463" rx="14" ry="12"/><ellipse cx="737" cy="1482" rx="12" ry="12"/></g>
</g>
<text x="972" y="1205" font-size="19" fill="#fff">20×</text>
<text x="929" y="1512" font-size="20" fill="#fff">200 μm</text><rect x="924" y="1515" width="73" height="4" fill="#fff"/>
<!-- rat left -->
<rect x="1054" y="1183" width="466" height="345" fill="#000"/>
<g clip-path="url(#cpGRL)">
<rect x="1054" y="1183" width="466" height="345" fill="#030316"/>
<rect x="1054" y="1183" width="466" height="345" filter="url(#fBd)" opacity="0.32"/>
<ellipse cx="1312" cy="1440" rx="25" ry="38" fill="#1a28a0" opacity="0.85"/>
</g>
<g fill="none" stroke-width="3" opacity="0.9">
<path d="M1180,1262 C1200,1245 1225,1245 1232,1262" stroke="#f0c080"/>
<path d="M1148,1310 C1158,1330 1150,1360 1165,1380" stroke="#e05040"/>
<path d="M1130,1400 C1150,1410 1160,1430 1150,1450" stroke="#f0a070"/>
<path d="M1275,1300 C1292,1312 1296,1332 1284,1348" stroke="#e04040"/>
<ellipse cx="1318" cy="1291" rx="6" ry="10" stroke="#fff"/>
<ellipse cx="1278" cy="1288" rx="3" ry="10" stroke="#fff"/>
<path d="M1370,1285 C1378,1305 1382,1325 1372,1345" stroke="#e8e8e8"/>
<path d="M1410,1270 C1420,1290 1425,1310 1418,1330" stroke="#e06050"/>
<path d="M1420,1340 C1432,1360 1440,1380 1428,1410" stroke="#f0f0f0"/>
<path d="M1440,1400 C1450,1420 1445,1440 1455,1460" stroke="#d04040"/>
<path d="M1350,1210 C1355,1235 1352,1255 1360,1275" stroke="#e0a080"/>
<path d="M1220,1420 C1230,1440 1240,1455 1232,1475" stroke="#40c040"/>
<path d="M1380,1480 C1400,1490 1420,1488 1430,1500" stroke="#40b040"/>
<path d="M1160,1280 C1175,1300 1190,1310 1200,1330" stroke="#e08060"/>
<path d="M1120,1350 C1130,1370 1128,1390 1140,1400" stroke="#e0e0d0"/>
</g>
<rect x="1286" y="1255" width="159" height="110" fill="none" stroke="#fff" stroke-width="4" stroke-dasharray="12 7"/>
<g font-size="19"><text x="1063" y="1205" fill="#22c022">Desmin</text><text x="1063" y="1225" fill="#fff">Actin</text><text x="1063" y="1245" fill="#e02020">α-SMA</text></g>
<text x="1475" y="1208" font-size="19" fill="#fff">5×</text>
<text x="1442" y="1512" font-size="20" fill="#fff">500 μm</text><rect x="1444" y="1515" width="62" height="4" fill="#fff"/>
<!-- rat right -->
<rect x="1527" y="1183" width="500" height="345" fill="#03031a"/>
<rect x="1527" y="1183" width="500" height="345" filter="url(#fBd)" opacity="0.38"/>
<g fill="none" opacity="0.9">
<ellipse cx="1632" cy="1292" rx="17" ry="24" stroke="#eee" stroke-width="6"/>
<path d="M1532,1440 C1555,1425 1580,1440 1575,1480 C1570,1505 1560,1520 1550,1490" stroke="#f0d0c0" stroke-width="5"/>
<ellipse cx="1845" cy="1368" rx="10" ry="28" stroke="#c0f0f0" stroke-width="5"/>
<path d="M1820,1410 C1810,1440 1800,1460 1795,1480" stroke="#d0e8f0" stroke-width="5"/>
<path d="M1880,1195 C1870,1220 1860,1240 1855,1250" stroke="#e05040" stroke-width="4"/>
<path d="M1870,1270 C1880,1285 1878,1300 1868,1305" stroke="#f0a060" stroke-width="4"/>
<path d="M1960,1190 C1980,1230 1995,1280 2010,1320" stroke="#c0e0c0" stroke-width="3"/>
<path d="M1995,1220 C2010,1240 2020,1260 2025,1280" stroke="#e06050" stroke-width="3"/>
<ellipse cx="1725" cy="1330" rx="4" ry="6" stroke="#fff" stroke-width="3"/>
<path d="M1720,1215 C1725,1230 1722,1250 1712,1260" stroke="#c0e0d0" stroke-width="3"/>
<path d="M1640,1490 C1660,1500 1680,1510 1700,1505" stroke="#e0e0e0" stroke-width="3"/>
<path d="M1960,1400 C1975,1420 1990,1450 2000,1480" stroke="#e0c080" stroke-width="3"/>
<path d="M1970,1330 C1990,1350 2000,1370 1990,1400" stroke="#e0e0e0" stroke-width="3"/>
</g>
<text x="1984" y="1208" font-size="19" fill="#fff">20×</text>
<text x="1940" y="1512" font-size="20" fill="#fff">200 μm</text><rect x="1947" y="1515" width="53" height="4" fill="#fff"/>

<!-- ===== H ===== -->
<rect x="65" y="1616" width="488" height="792" fill="none" stroke="#000" stroke-width="4"/>
<g fill="#dadada">
<ellipse cx="179" cy="1641" rx="10" ry="12"/>
<path d="M170,1653 L188,1653 C196,1656 203,1658 205,1668 C208,1685 212,1700 217,1714 C219,1718 214,1720 212,1716 C206,1702 202,1690 199,1680 C198,1695 197,1708 196,1720 C197,1740 195,1762 194,1782 L186,1784 C185,1762 183,1742 180,1725 C177,1742 175,1762 174,1784 L166,1782 C165,1762 162,1740 163,1720 C162,1708 161,1695 160,1680 C157,1690 153,1702 147,1716 C145,1720 140,1718 142,1714 C147,1700 151,1685 154,1668 C156,1658 162,1656 170,1653 Z"/>
</g>
<g fill="#d0d0d0">
<path d="M120,2150 C118,2115 150,2088 190,2085 C215,2083 235,2090 248,2102 C258,2110 268,2118 272,2126 C268,2130 258,2132 250,2134 C245,2145 235,2155 228,2160 L232,2168 L222,2168 L218,2160 C200,2163 185,2162 175,2160 L172,2168 L160,2168 L162,2158 C140,2160 122,2158 120,2150 Z"/>
<ellipse cx="236" cy="2094" rx="8" ry="10" fill="#c4c4c4"/>
</g>
<path d="M122,2152 C95,2165 100,2185 150,2188 C200,2190 240,2188 270,2193" stroke="#d0d0d0" stroke-width="5" fill="none"/>
<g font-size="24" font-style="italic" text-anchor="middle">
<text x="433" y="1645">ACTC1</text><text x="188" y="1812">ACTG2</text><text x="429" y="1810">MYL9</text>
<text x="431" y="2073">Actc1</text><text x="179" y="2240">Actg2</text><text x="431" y="2240">Myl9</text>
</g>
<!-- ACTC1 -->
<g transform="translate(321,1646)">
<use href="#hL" fill="url(#pHg)"/>
<use href="#hTop" fill="url(#pHg)"/><use href="#hTr" fill="url(#pHg)"/><use href="#hTr" fill="url(#pHs)"/>
<use href="#hBr" fill="url(#pHg)"/><use href="#hBr" fill="url(#pHs)"/><use href="#hR" fill="url(#pHg)"/>
<g fill="#9c2818"><circle cx="112" cy="104" r="3"/><circle cx="96" cy="110" r="3"/><circle cx="130" cy="84" r="3"/><circle cx="150" cy="42" r="3"/><circle cx="190" cy="62" r="3"/><circle cx="108" cy="118" r="3"/></g>
</g>
<!-- ACTG2 -->
<g transform="translate(80,1818)">
<use href="#hL" fill="url(#pHg)"/><use href="#hL" fill="url(#pHs)"/>
<use href="#hTop" fill="url(#pHr2)"/><use href="#hTr" fill="url(#pHr)"/>
<use href="#hBr" fill="url(#pHr)"/><use href="#hR" fill="url(#pHg)"/><use href="#hR" fill="url(#pHs)"/>
</g>
<!-- MYL9 -->
<g transform="translate(322,1818)">
<use href="#hL" fill="url(#pHd)"/>
<use href="#hTop" fill="url(#pHr2)"/><use href="#hTr" fill="url(#pHd)"/>
<use href="#hBr" fill="url(#pHd)"/><use href="#hR" fill="url(#pHr2)"/>
</g>
<!-- Actc1 -->
<g transform="translate(326,2076)">
<use href="#rTop" fill="url(#pHg)"/><use href="#rL" fill="url(#pHg)"/><use href="#rM" fill="url(#pHg)"/>
<use href="#rR" fill="url(#pHg)"/><use href="#rB" fill="url(#pHg)"/>
<circle cx="118" cy="42" r="3" fill="#8a1c10"/>
</g>
<!-- Actg2 -->
<g transform="translate(84,2240)">
<use href="#rTop" fill="url(#pHd)"/><use href="#rL" fill="url(#pHg)"/><use href="#rL" fill="url(#pHs)"/>
<use href="#rM" fill="url(#pHg)"/><use href="#rM" fill="url(#pHs)"/><use href="#rR" fill="url(#pHg)"/><use href="#rR" fill="url(#pHs)"/>
<use href="#rB" fill="url(#pHg)"/><use href="#rB" fill="url(#pHs)"/>
</g>
<!-- Myl9 -->
<g transform="translate(326,2240)">
<use href="#rTop" fill="url(#pHd)"/><use href="#rL" fill="url(#pHr)"/><use href="#rM" fill="url(#pHd)"/>
<use href="#rR" fill="url(#pHr)"/><use href="#rB" fill="url(#pHd)"/>
</g>
<!-- H color bars -->
<g fill="url(#gH)"><rect x="510" y="1741" width="9" height="43"/><rect x="269" y="1911" width="10" height="42"/><rect x="513" y="1911" width="9" height="42"/><rect x="507" y="2169" width="9" height="42"/><rect x="267" y="2335" width="9" height="43"/><rect x="507" y="2335" width="9" height="43"/></g>
<g font-size="7" fill="#333">
<text x="523" y="1746">4</text><text x="523" y="1755">3</text><text x="523" y="1764">2</text><text x="523" y="1773">1</text><text x="523" y="1783">0</text>
<text x="283" y="1915">5</text><text x="283" y="1922">4</text><text x="283" y="1929">3</text><text x="283" y="1936">2</text><text x="283" y="1943">1</text><text x="283" y="1951">0</text>
<text x="526" y="1918">5</text><text x="526" y="1929">4</text><text x="526" y="1940">3</text><text x="526" y="1951">2</text>
<text x="520" y="2174">1.5</text><text x="520" y="2186">1.0</text><text x="520" y="2198">0.5</text><text x="520" y="2210">0.0</text>
<text x="280" y="2340">4</text><text x="280" y="2349">3</text><text x="280" y="2358">2</text><text x="280" y="2367">1</text><text x="280" y="2377">0</text>
<text x="520" y="2340">4</text><text x="520" y="2349">3</text><text x="520" y="2358">2</text><text x="520" y="2367">1</text><text x="520" y="2377">0</text>
</g>

<!-- ===== I ===== -->
<rect x="580" y="1617" width="1456" height="789" fill="none" stroke="#000" stroke-width="4"/>
<!-- top-left -->
<rect x="584" y="1656" width="350" height="349" fill="#000"/>
<g clip-path="url(#cpItl)">
<rect x="584" y="1656" width="350" height="349" fill="#120a30"/>
<rect x="584" y="1656" width="350" height="349" filter="url(#fBd)"/>
<rect x="584" y="1656" width="350" height="349" filter="url(#fRd)" opacity="0.6"/>
<rect x="584" y="1656" width="350" height="349" filter="url(#fGs)" opacity="0.7"/>
<rect x="584" y="1656" width="350" height="349" filter="url(#fK)" opacity="0.55"/>
</g>
<g font-size="22" font-style="italic" text-anchor="end"><text x="929" y="1949" fill="#22cc22">ACTC1</text><text x="929" y="1974" fill="#ee1c1c">ACTG2</text><text x="929" y="1998" fill="#1a2ae0">MYL9</text></g>
<!-- top H&E -->
<use href="#heH" x="945" y="1653"/><use href="#heH" x="1311" y="1653"/><use href="#heH" x="1677" y="1653"/>
<rect x="945" y="1653" width="350" height="351" filter="url(#fDGs)"/>
<rect x="1311" y="1653" width="350" height="351" filter="url(#fDGd)" opacity="0.5"/>
<rect x="1677" y="1653" width="350" height="351" filter="url(#fDGd)" opacity="0.6"/>
<g font-size="23" font-style="italic" text-anchor="middle"><text x="1122" y="1649">ACTC1</text><text x="1495" y="1649">ACTG2</text><text x="1868" y="1649">MYL9</text></g>
<!-- bottom-left -->
<rect x="586" y="2052" width="349" height="350" fill="#000"/>
<g clip-path="url(#cpIbl)">
<rect x="586" y="2052" width="349" height="350" filter="url(#fBs)" opacity="0.8"/>
<rect x="586" y="2052" width="349" height="350" filter="url(#fRs)" opacity="0.8"/>
</g>
<g>
<circle cx="641" cy="2140" r="28" fill="url(#gBlobR)"/><circle cx="683" cy="2230" r="32" fill="url(#gBlobB)"/><circle cx="683" cy="2230" r="24" fill="url(#gBlobR)"/>
<circle cx="797" cy="2123" r="26" fill="url(#gBlobR)"/><circle cx="797" cy="2173" r="22" fill="url(#gBlobR)"/><circle cx="646" cy="2320" r="36" fill="url(#gBlobR)"/><circle cx="646" cy="2320" r="22" fill="url(#gBlobR)"/>
<circle cx="806" cy="2317" r="30" fill="url(#gBlobB)"/><circle cx="806" cy="2317" r="22" fill="url(#gBlobR)"/><circle cx="712" cy="2100" r="24" fill="url(#gBlobB)"/><circle cx="750" cy="2080" r="20" fill="url(#gBlobB)"/>
</g>
<g fill="none" stroke="#fff" stroke-width="3"><rect x="736" y="2159" width="100" height="102"/><rect x="595" y="2279" width="101" height="102"/><rect x="767" y="2269" width="101" height="102"/></g>
<g fill="#fff" font-size="20"><text x="742" y="2252">Region III</text><text x="606" y="2372">Region I</text><text x="780" y="2362">Region II</text></g>
<g font-size="22" font-style="italic" text-anchor="end"><text x="932" y="2350" fill="#22cc22">Actc1</text><text x="932" y="2373" fill="#ee1c1c">Actg2</text><text x="932" y="2396" fill="#1a2ae0">Myl9</text></g>
<!-- rat H&E -->
<use href="#heR" x="948" y="2052"/><use href="#heR" x="1316" y="2052"/><use href="#heR" x="1681" y="2052"/>
<g font-size="23" font-style="italic" text-anchor="middle"><text x="1125" y="2044">Actc1</text><text x="1500" y="2041">Actg2</text><text x="1878" y="2041">Myl9</text></g>
<ellipse cx="1372" cy="2142" rx="28" ry="20" fill="url(#pGd)"/>
<ellipse cx="1377" cy="2323" rx="25" ry="17" fill="url(#pGd)"/>
<ellipse cx="1476" cy="2127" rx="120" ry="42" fill="url(#pGs)"/>
<ellipse cx="1420" cy="2230" rx="38" ry="25" fill="url(#pGs)"/><ellipse cx="1420" cy="2230" rx="25" ry="18" fill="url(#pGd)" opacity="0.6"/>
<ellipse cx="1490" cy="2323" rx="115" ry="32" fill="url(#pGs)"/>
<ellipse cx="1807" cy="2122" rx="100" ry="36" fill="url(#pGs)"/><ellipse cx="1770" cy="2120" rx="50" ry="25" fill="url(#pGs)" transform="translate(6 5)"/>
<ellipse cx="1779" cy="2230" rx="38" ry="20" fill="url(#pGd)" opacity="0.7"/>
<ellipse cx="1825" cy="2328" rx="110" ry="38" fill="url(#pGs)"/><ellipse cx="1790" cy="2330" rx="60" ry="25" fill="url(#pGs)" transform="translate(9 7)"/>
<use href="#arw" fill="#000" transform="translate(1360,2142) rotate(215)"/>
<use href="#arw" fill="#000" transform="translate(1373,2337) rotate(145)"/>
</svg>
</body></html>
